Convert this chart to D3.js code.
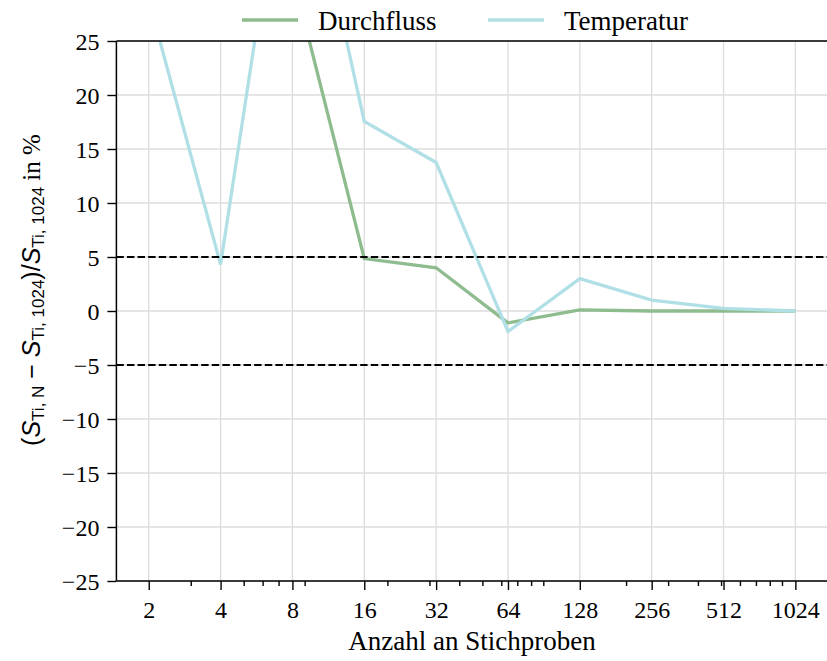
<!DOCTYPE html>
<html>
<head>
<meta charset="utf-8">
<script src="https://cdn.jsdelivr.net/npm/d3@7"></script>
<style>
  body { margin: 0; background: #fff; }
  svg { display: block; }
  .tick text { font-family: "Liberation Serif", serif; font-size: 24px; fill: #000; }
  .tick line { stroke: #000; stroke-width: 1.4; }
</style>
</head>
<body>
<svg id="chart" width="827" height="661"></svg>
<script>
// Data
var samples = [2, 4, 8, 16, 32, 64, 128, 256, 512, 1024];
var durchfluss = [55, 40, 31.2, 4.85, 4.0, -1.1, 0.1, 0.0, 0.0, 0.0];
var temperatur = [28.8, 4.3, 47.8, 17.55, 13.75, -1.9, 3.0, 1.0, 0.25, 0.0];
var seriesNames = ['Durchfluss', 'Temperatur'];
var seriesColors = ['#8fbc8f', '#b0e0e6'];
var yTicks = [-25, -20, -15, -10, -5, 0, 5, 10, 15, 20, 25];
var minorTicks = [3, 5, 6, 7, 9, 20, 30, 40, 50, 60, 70, 80, 90, 200, 300, 400, 500, 600, 700, 800, 900];
var limitLines = [5, -5];

var svg = d3.select('#chart');

// plot box
var box = {l: 116.4, r: 827.7, t: 41, b: 581};

var x = d3.scaleLog().base(2)
    .domain([Math.pow(2, 0.55), Math.pow(2, 10.45)])
    .range([box.l, box.r]);

var y = d3.scaleLinear()
    .domain([-25, 25])
    .range([box.b, box.t]);

// grid
var grid = svg.append('g');
grid.selectAll('.gx').data(samples).enter().append('line')
    .attr('x1', function(d) { return x(d); })
    .attr('x2', function(d) { return x(d); })
    .attr('y1', box.t).attr('y2', box.b)
    .attr('stroke', '#dcdcdc').attr('stroke-width', 1.3);
grid.selectAll('.gy').data(yTicks).enter().append('line')
    .attr('x1', box.l).attr('x2', box.r)
    .attr('y1', function(d) { return y(d); })
    .attr('y2', function(d) { return y(d); })
    .attr('stroke', '#dcdcdc').attr('stroke-width', 1.3);

// clip for the series
svg.append('clipPath').attr('id', 'plotClip')
  .append('rect')
    .attr('x', box.l).attr('y', box.t)
    .attr('width', box.r - box.l).attr('height', box.b - box.t);

var line = d3.line()
    .x(function(d) { return x(d[0]); })
    .y(function(d) { return y(d[1]); });

var series = [durchfluss, temperatur];
var plotG = svg.append('g').attr('clip-path', 'url(#plotClip)');
series.forEach(function(vals, i) {
    plotG.append('path')
        .datum(samples.map(function(s, j) { return [s, vals[j]]; }))
        .attr('d', line)
        .attr('fill', 'none')
        .attr('stroke', seriesColors[i])
        .attr('stroke-width', 3.3)
        .attr('stroke-linejoin', 'miter');
});

// dashed limits
svg.selectAll('.limit').data(limitLines).enter().append('line')
    .attr('class', 'limit')
    .attr('x1', box.l).attr('x2', box.r)
    .attr('y1', function(d) { return y(d); })
    .attr('y2', function(d) { return y(d); })
    .attr('stroke', '#000')
    .attr('stroke-width', 2)
    .attr('stroke-dasharray', '7.4,3.2');

// axes
var xAxis = d3.axisBottom(x)
    .tickValues(samples)
    .tickFormat(function(d) { return d; })
    .tickSizeInner(9).tickSizeOuter(0);
var xg = svg.append('g')
    .attr('transform', 'translate(0,' + box.b + ')')
    .call(xAxis);
xg.select('.domain').remove();
xg.selectAll('.tick text').attr('dy', null).attr('y', 37);

var xMinor = d3.axisBottom(x)
    .tickValues(minorTicks)
    .tickFormat('')
    .tickSizeInner(5).tickSizeOuter(0);
var xmg = svg.append('g')
    .attr('transform', 'translate(0,' + box.b + ')')
    .call(xMinor);
xmg.select('.domain').remove();
xmg.selectAll('.tick line').attr('stroke-width', 1.2);

var yAxis = d3.axisLeft(y)
    .tickValues(yTicks)
    .tickFormat(function(d) { return d < 0 ? '\u2212' + Math.abs(d) : d; })
    .tickSizeInner(9).tickSizeOuter(0).tickPadding(8);
var yg = svg.append('g')
    .attr('transform', 'translate(' + box.l + ',0)')
    .call(yAxis);
yg.select('.domain').remove();
yg.selectAll('.tick text').attr('dy', '0.34em');

// spines
svg.append('line').attr('x1', box.l).attr('x2', box.l).attr('y1', box.t).attr('y2', box.b)
    .attr('stroke', '#000').attr('stroke-width', 1.5);
svg.append('line').attr('x1', box.l).attr('x2', box.r).attr('y1', box.b).attr('y2', box.b)
    .attr('stroke', '#000').attr('stroke-width', 1.5);
svg.append('line').attr('x1', box.l).attr('x2', box.r).attr('y1', box.t).attr('y2', box.t)
    .attr('stroke', '#000').attr('stroke-width', 1.5);

// x label
svg.append('text')
    .attr('x', (x(2) + x(1024)) / 2)
    .attr('y', 650)
    .attr('text-anchor', 'middle')
    .style('font-family', '"Liberation Serif", serif')
    .style('font-size', '27px')
    .text('Anzahl an Stichproben');

// y label (rotated)
var yl = svg.append('text')
    .attr('transform', 'translate(40,290) rotate(-90)')
    .attr('text-anchor', 'middle')
    .style('font-family', '"Liberation Sans", sans-serif')
    .style('font-size', '25px');
function addS(sub) {
    yl.append('tspan').style('font-style', 'italic').text('S');
    yl.append('tspan').attr('baseline-shift', '-22%').style('font-size', '17px').text(sub);
}
yl.append('tspan').text('(');
addS('Ti, N');
yl.append('tspan').text(' \u2212 ');
addS('Ti, 1024');
yl.append('tspan').text(')/');
addS('Ti, 1024');
yl.append('tspan').style('font-family', '"Liberation Serif", serif').style('font-size', '25px').text(' in %');

// legend
var legendX = [242, 488];
seriesNames.forEach(function(name, i) {
    svg.append('line')
        .attr('x1', legendX[i]).attr('x2', legendX[i] + 56)
        .attr('y1', 20).attr('y2', 20)
        .attr('stroke', seriesColors[i]).attr('stroke-width', 3.3);
    svg.append('text')
        .attr('x', legendX[i] + 76)
        .attr('y', 29.5)
        .style('font-family', '"Liberation Serif", serif')
        .style('font-size', '27px')
        .text(name);
});
</script>
</body>
</html>
